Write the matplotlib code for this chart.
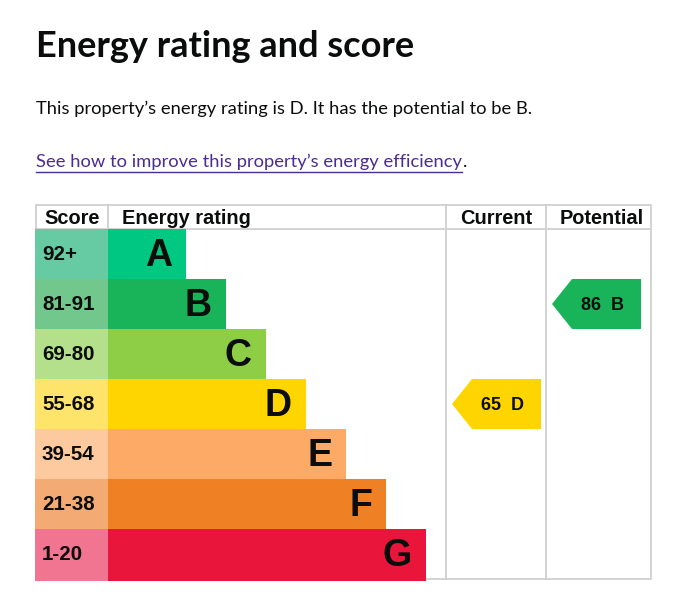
import matplotlib.pyplot as plt
from matplotlib.patches import Polygon, Rectangle

# ---- data ----
bands = ['A', 'B', 'C', 'D', 'E', 'F', 'G']
score_ranges = ['92+', '81-91', '69-80', '55-68', '39-54', '21-38', '1-20']
band_colours = ['#00c781', '#19b459', '#8dce46', '#ffd500', '#fcaa65', '#ef8023', '#e9153b']
score_colours = ['#66caa3', '#72c78c', '#b5e08b', '#ffe46b', '#fdcaa0', '#f4ab73', '#f17590']
headers = ['Score', 'Energy rating', 'Current', 'Potential']
current_score, current_band = 65, 'D'
potential_score, potential_band = 86, 'B'

title = 'Energy rating and score'
summary = "This property\u2019s energy rating is D. It has the potential to be B."
link_text = "See how to improve this property\u2019s energy efficiency"

# ---- layout (pixels) ----
W, H = 686, 612
left, right = 36, 651
score_w = 72
col_cur, col_pot = 446, 546
top, head_h, row_h = 205, 24, 50
bar_min, bar_step = 78, 40
grid = '#d0d0d0'
ink = '#0b0c0c'

fig = plt.figure(figsize=(W / 100, H / 100), dpi=100)
ax = fig.add_axes([0, 0, 1, 1])
ax.set_xlim(0, W)
ax.set_ylim(H, 0)
ax.axis('off')

# title + text
ax.text(36, 57, title, fontsize=26, fontweight='bold', family='Lato', va='baseline', color=ink)
ax.text(36, 114, summary, fontsize=13.2, family='Lato', va='baseline', color=ink)
lk = ax.text(36, 167, link_text, fontsize=13.2, family='Lato', va='baseline', color='#4c2c92')
fig.canvas.draw()
x1 = lk.get_window_extent().x1
ax.plot([36, x1], [172, 172], color='#4c2c92', lw=1)
ax.text(x1 + 1, 167, '.', fontsize=13.2, family='Lato', va='baseline', color=ink)

# grid lines (under the coloured cells)
body_top = top + head_h
bottom = body_top + len(bands) * row_h
lw = 1.3
ax.plot([left, right, right, left, left], [top, top, bottom, bottom, top], color=grid, lw=lw, zorder=1)
ax.plot([left, right], [body_top, body_top], color=grid, lw=lw, zorder=1)
ax.plot([left + score_w, left + score_w], [top, body_top], color=grid, lw=lw, zorder=1)
for x in (col_cur, col_pot):
    ax.plot([x, x], [top, bottom], color=grid, lw=lw, zorder=1)

# rows
for i, b in enumerate(bands):
    y0 = body_top + i * row_h
    ext = 1.5 if i == len(bands) - 1 else 0
    ax.add_patch(Rectangle((left - 1, y0), score_w + 1, row_h + ext, color=score_colours[i], lw=0, zorder=2))
    w = bar_min + bar_step * i
    ax.barh(y0 + (row_h + ext) / 2, w, height=row_h + ext, left=left + score_w, color=band_colours[i],
            lw=0, zorder=2)
    ax.text(left + 6, y0 + row_h / 2 + 1, score_ranges[i], fontsize=14.8, fontweight='bold',
            family='Liberation Sans', va='center', ha='left', color=ink, zorder=3)
    ax.text(left + score_w + w - 14, y0 + row_h / 2 + 2, b, fontsize=27, fontweight='bold',
            family='Liberation Sans', va='center', ha='right', color=ink, zorder=3)

# headers
hy = body_top - 5
hfs = 14.4
ax.text(left + 8, hy, headers[0], fontsize=hfs, fontweight='bold', family='Liberation Sans', va='baseline', color=ink)
ax.text(left + score_w + 14, hy, headers[1], fontsize=hfs, fontweight='bold', family='Liberation Sans',
        va='baseline', color=ink)
ax.text((col_cur + col_pot) / 2, hy, headers[2], fontsize=hfs, fontweight='bold', family='Liberation Sans',
        va='baseline', ha='center', color=ink)
ax.text((col_pot + right) / 2 + 3, hy, headers[3], fontsize=hfs, fontweight='bold', family='Liberation Sans',
        va='baseline', ha='center', color=ink)


def arrow(score, band, x0, x1):
    i = bands.index(band)
    y0 = body_top + i * row_h
    tip = 20
    pts = [(x0, y0 + row_h / 2), (x0 + tip, y0), (x1, y0), (x1, y0 + row_h), (x0 + tip, y0 + row_h)]
    ax.add_patch(Polygon(pts, closed=True, color=band_colours[i], lw=0, zorder=2))
    ax.text((x0 + tip + x1) / 2 - 4, y0 + row_h / 2 + 1, f'{score}  {band}', fontsize=13, fontweight='bold',
            family='Liberation Sans', va='center', ha='center', color=ink, zorder=3)


arrow(current_score, current_band, col_cur + 6, col_cur + 95)
arrow(potential_score, potential_band, col_pot + 6, col_pot + 95)

fig.savefig('out.png', dpi=100, facecolor='white')
